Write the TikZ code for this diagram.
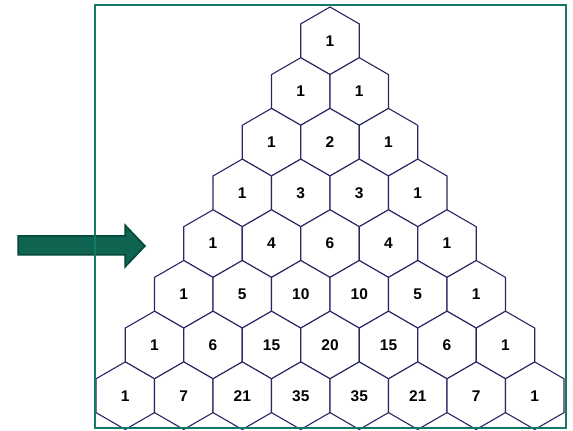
\documentclass[tikz,border=0pt]{standalone}
\usepackage{fontspec}
\setmainfont{Liberation Sans}
\usetikzlibrary{shapes.geometric}
\definecolor{hexline}{RGB}{40,40,100}
\definecolor{frameteal}{RGB}{20,120,105}
\definecolor{arrowfill}{RGB}{14,100,80}
\definecolor{arrowedge}{RGB}{0,72,56}
\begin{document}
\begin{tikzpicture}[x=1pt,y=-1pt,
  every node/.style={regular polygon,regular polygon sides=6,shape border rotate=30,draw=hexline,line width=1.1pt,fill=white,inner sep=0pt,outer sep=0pt,minimum size=67.6pt,font=\bfseries\fontsize{15.5}{17}\selectfont}]
\fill[white] (0,0) rectangle (573,430);
% row 1
\node (a0) at (330,40.8) {1};
% row 2
\node (b0) at (300.75,91.5) {1};
\node (b1) at (359.25,91.5) {1};
% row 3
\node (c0) at (271.5,142.2) {1};
\node (c1) at (330,142.2) {2};
\node (c2) at (388.5,142.2) {1};
% row 4
\node (d0) at (242.25,192.9) {1};
\node (d1) at (300.75,192.9) {3};
\node (d2) at (359.25,192.9) {3};
\node (d3) at (417.75,192.9) {1};
% row 5
\node (e0) at (213,243.6) {1};
\node (e1) at (271.5,243.6) {4};
\node (e2) at (330,243.6) {6};
\node (e3) at (388.5,243.6) {4};
\node (e4) at (447,243.6) {1};
% row 6
\node (f0) at (183.75,294.3) {1};
\node (f1) at (242.25,294.3) {5};
\node (f2) at (300.75,294.3) {10};
\node (f3) at (359.25,294.3) {10};
\node (f4) at (417.75,294.3) {5};
\node (f5) at (476.25,294.3) {1};
% row 7
\node (g0) at (154.5,345) {1};
\node (g1) at (213,345) {6};
\node (g2) at (271.5,345) {15};
\node (g3) at (330,345) {20};
\node (g4) at (388.5,345) {15};
\node (g5) at (447,345) {6};
\node (g6) at (505.5,345) {1};
% row 8
\node (h0) at (125.25,395.7) {1};
\node (h1) at (183.75,395.7) {7};
\node (h2) at (242.25,395.7) {21};
\node (h3) at (300.75,395.7) {35};
\node (h4) at (359.25,395.7) {35};
\node (h5) at (417.75,395.7) {21};
\node (h6) at (476.25,395.7) {7};
\node (h7) at (534.75,395.7) {1};
% pointer and frame
\filldraw[fill=arrowfill,draw=arrowedge,line width=1.5pt,line join=miter]
  (18,236) -- (125,236) -- (125,225) -- (145,246) -- (125,267) -- (125,255) -- (18,255) -- cycle;
\draw[frameteal,line width=1.5pt] (95,5) rectangle (566,428);
\end{tikzpicture}
\end{document}
